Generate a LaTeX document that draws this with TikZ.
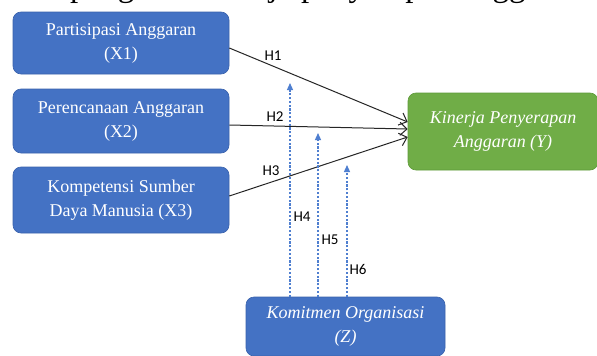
\documentclass[tikz,border=0pt]{standalone}
\usepackage{fontspec}
\setmainfont{Liberation Serif}
\newfontfamily\lblfont{Carlito}
\usetikzlibrary{arrows.meta}
\definecolor{boxblue}{HTML}{4472C4}
\definecolor{boxblueline}{HTML}{3A62AC}
\definecolor{boxgreen}{HTML}{70AD47}
\definecolor{boxgreenline}{HTML}{5E9A3A}
\definecolor{dashblue}{HTML}{4F7FD0}
\tikzset{
  varbox/.style={draw=boxblueline, line width=0.6pt, fill=boxblue, rounded corners=8pt,
    text=white, align=center, inner sep=0pt,
    font=\fontsize{18}{24}\selectfont},
  depbox/.style={varbox, draw=boxgreenline, fill=boxgreen, font=\fontsize{18}{24}\selectfont\itshape},
  modbox/.style={varbox, font=\fontsize{18}{24}\selectfont\itshape},
  hyp/.style={-{Straight Barb[length=7pt,width=13pt,line width=1pt]}, line width=1pt, black!85},
  modarr/.style={-{Triangle[length=7pt,width=6pt]}, dashblue, line width=1.2pt, dash pattern=on 2.2pt off 1.6pt},
  hlbl/.style={font=\lblfont\fontsize{15}{15}\selectfont, inner sep=0pt, text=black}
}
\begin{document}
\begin{tikzpicture}[x=1pt,y=-1pt]
\useasboundingbox (0,0) rectangle (597,356);
\clip (0,0) rectangle (597,356);
\fill[white] (0,0) rectangle (597,356);
% clipped running text line at top
\node[anchor=base west, inner sep=0pt, font=\fontsize{33}{40}\selectfont] (toptext) at (14,-4) {dan pengaruh kinerja penyerapan anggaran.};
% boxes
\node[varbox, minimum width=216pt, minimum height=62pt] (X1) at (121,43) {Partisipasi Anggaran\\(X1)};
\node[varbox, minimum width=216pt, minimum height=64pt] (X2) at (121,121) {Perencanaan Anggaran\\(X2)};
\node[varbox, minimum width=216pt, minimum height=66pt] (X3) at (121,200) {Kompetensi Sumber\\Daya Manusia (X3)};
\node[depbox, minimum width=190pt, minimum height=77pt] (Y) at (503,131.5) {Kinerja Penyerapan\\Anggaran (Y)};
\node[modbox, minimum width=199pt, minimum height=59pt] (Z) at (345.5,326.5) {Komitmen Organisasi\\(Z)};
% direct hypotheses
\draw[hyp] ([yshift=-5pt]X1.east) -- ([yshift=9.5pt]Y.west);
\draw[hyp] ([yshift=-4pt]X2.east) -- ([yshift=2.5pt]Y.west);
\draw[hyp] ([yshift=4pt]X3.east) -- ([yshift=-5.5pt]Y.west);
% moderation arrows
\coordinate (t4) at (290,83);
\coordinate (t5) at (318,133);
\coordinate (t6) at (347,165);
\draw[modarr] (t4 |- Z.north) -- (t4);
\draw[modarr] (t5 |- Z.north) -- (t5);
\draw[modarr] (t6 |- Z.north) -- (t6);
% labels
\node[hlbl] (h1) at (273,56) {H1};
\node[hlbl] (h2) at (275,117) {H2};
\node[hlbl] (h3) at (271,171) {H3};
\node[hlbl] (h4) at (302,217) {H4};
\node[hlbl] (h5) at (330,240) {H5};
\node[hlbl] (h6) at (358,269) {H6};
\end{tikzpicture}
\end{document}
